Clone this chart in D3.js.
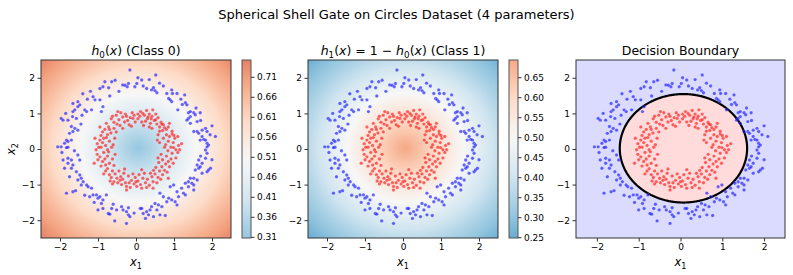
<!DOCTYPE html>
<html>
<head>
<meta charset="utf-8">
<script src="https://cdn.jsdelivr.net/npm/d3@7"></script>
<style>
  body { margin: 0; background: #fff; }
  text { font-family: "DejaVu Sans", sans-serif; fill: #000; }
</style>
</head>
<body>
<div id="holder"></div>
<script>
// ---- data ----
const mainTitle = "Spherical Shell Gate on Circles Dataset (4 parameters)";
const axisTicks = [-2, -1, 0, 1, 2];
const h0Ticks = [0.31, 0.36, 0.41, 0.46, 0.51, 0.56, 0.61, 0.66, 0.71];
const h1Ticks = [0.25, 0.30, 0.35, 0.40, 0.45, 0.50, 0.55, 0.60, 0.65];
const h0Range = [0.307, 0.752];
const h1Range = [0.248, 0.693];

// the 4 gate parameters (centre x, centre y, weight, bias)
const gateCenter = [0.06, 0.03];
const gateWeight = 0.535;
const gateBias = -0.815;

// class 0 (outer ring, blue)
const class0 = [
  [-0.16,2.22],[-0.20,1.84],[-0.35,1.80],[-0.23,1.75],[-0.03,1.75],[-0.82,1.89],[-0.64,1.89],[-0.95,1.70],
  [-0.87,1.75],[-1.13,1.47],[-1.08,1.38],[-1.28,1.40],[-0.95,1.38],[-0.69,1.49],[-0.87,1.19],[-0.91,1.05],
  [-1.17,1.10],[-1.35,1.10],[-1.30,1.05],[-1.53,1.33],[-1.48,1.24],[-1.66,1.28],[-1.61,1.10],[-1.53,1.19],
  [-1.66,1.05],[-1.97,0.86],[-1.92,0.81],[-1.79,0.81],[-1.67,0.91],[-1.57,0.86],[-1.70,0.63],[-1.61,0.58],
  [-1.66,0.49],[-1.53,0.53],[-1.75,0.44],[-1.83,0.25],[-1.79,0.21],[-1.70,0.25],[-1.88,0.16],[-2.06,0.06],
  [-1.97,0.06],[-1.79,0.05],[-0.55,1.93],[-0.29,1.79],[-0.45,1.62],[-1.40,1.55],[-1.20,1.62],[-0.72,1.72],
  [-1.85,1.00],[-1.42,0.95],[-1.45,0.70],
  [0.52,2.08],[0.15,1.94],[0.02,1.84],[0.19,1.77],[0.28,1.70],[0.41,1.66],[0.50,1.64],[0.55,1.58],
  [0.46,1.72],[0.72,1.77],[0.81,1.56],[0.94,1.66],[0.96,1.56],[1.08,1.56],[1.28,1.52],[0.86,1.42],
  [0.90,1.38],[0.94,1.33],[1.30,1.30],[1.34,1.24],[1.10,1.10],[1.38,1.02],[1.43,1.05],[1.52,1.02],
  [1.56,0.96],[1.43,0.91],[1.38,0.86],[1.34,0.81],[1.61,0.77],[1.69,1.02],[1.43,0.72],[1.52,0.49],
  [1.61,0.49],[1.65,0.44],[1.74,0.53],[1.83,0.58],[1.87,0.49],[1.74,0.35],[1.78,0.27],[1.83,0.25],
  [1.69,0.25],[1.87,0.16],[1.91,0.11],[2.00,0.65],[2.09,0.35],[0.35,1.95],[0.62,1.85],[1.18,1.40],
  [1.58,1.15],[1.70,0.80],[1.95,0.40],[0.05,2.00],[1.22,1.25],
  [-1.83,0.04],[-1.79,-0.26],[-1.70,-0.31],[-1.92,-0.31],[-1.53,-0.17],[-1.48,-0.31],[-1.79,-0.40],[-1.66,-0.45],
  [-1.88,-0.54],[-1.70,-0.54],[-1.57,-0.64],[-1.48,-0.73],[-1.44,-0.82],[-1.75,-0.78],[-1.53,-0.87],[-1.39,-0.92],
  [-1.44,-1.01],[-1.83,-1.24],[-1.66,-1.20],[-1.59,-1.17],[-1.30,-1.01],[-1.26,-1.06],[-1.17,-1.10],[-1.13,-1.29],
  [-1.22,-1.34],[-1.04,-1.29],[-1.00,-1.38],[-0.95,-1.34],[-0.87,-1.43],[-0.78,-1.29],[-0.91,-1.53],[-0.87,-1.67],
  [-1.00,-1.71],[-0.73,-1.81],[-0.69,-1.83],[-0.64,-1.67],[-0.51,-1.71],[-0.38,-1.62],[-0.34,-1.71],[-0.25,-1.76],
  [-0.20,-1.85],[-0.16,-1.90],[-0.56,-2.02],[-0.25,-2.09],[-0.20,-1.65],[0.11,-1.67],[-1.62,-0.05],[-1.35,-1.30],
  [-1.10,-1.50],[-0.60,-1.55],[-0.05,-1.80],[-1.95,-0.10],
  [1.87,0.06],[1.83,-0.03],[1.87,-0.12],[1.65,-0.31],[1.83,-0.26],[1.74,-0.40],[1.61,-0.45],[1.65,-0.54],
  [1.69,-0.50],[1.56,-0.59],[1.87,-0.64],[1.91,-0.59],[1.96,-0.54],[1.74,-0.68],[1.52,-0.82],[1.43,-0.82],
  [1.61,-0.87],[1.38,-0.92],[1.30,-0.96],[1.47,-0.96],[1.52,-1.01],[1.38,-1.06],[1.52,-1.15],[1.25,-1.24],
  [1.30,-1.29],[1.08,-1.20],[1.12,-1.34],[0.90,-1.06],[0.99,-1.01],[0.86,-1.38],[0.94,-1.43],[1.03,-1.48],
  [1.08,-1.57],[0.81,-1.48],[0.72,-1.34],[0.63,-1.24],[0.50,-1.53],[0.59,-1.57],[0.68,-1.62],[0.55,-1.71],
  [0.41,-1.62],[0.37,-1.71],[0.15,-1.67],[0.19,-1.81],[0.28,-1.76],[0.33,-1.85],[0.46,-1.90],[0.63,-1.85],
  [0.77,-1.87],[1.70,-0.20],[2.00,-0.30],[1.20,-1.10],[0.25,-1.95]
];

// class 1 (inner ring, red)
const class1 = [
  [0.92,0.05],[0.78,0.12],[1.05,-0.02],[0.85,0.22],[0.98,0.18],[1.12,0.10],[0.72,0.30],[0.88,0.35],
  [1.02,0.30],[0.80,0.40],[0.95,0.42],[0.62,0.18],[1.20,0.15],[0.84,-0.05],[0.99,0.04],
  [0.70,0.52],[0.62,0.62],[0.55,0.70],[0.75,0.60],[0.48,0.80],[0.66,0.75],[0.58,0.88],[0.80,0.55],
  [0.42,0.58],[0.72,0.68],[0.52,0.98],[0.40,0.85],[0.62,0.50],[0.85,0.62],
  [0.30,0.85],[0.22,0.95],[0.35,0.98],[0.15,0.76],[0.28,1.08],[0.10,0.92],[0.38,0.72],[0.05,0.85],
  [0.20,0.66],[0.44,1.10],[0.18,1.00],[0.32,0.90],
  [-0.05,0.95],[-0.15,0.88],[-0.10,1.02],[-0.22,0.80],[-0.28,0.98],[-0.35,0.90],[-0.18,0.68],[-0.40,1.02],
  [-0.30,0.76],[-0.45,0.82],[-0.02,0.76],
  [-0.52,0.95],[-0.58,0.75],[-0.65,0.85],[-0.72,0.62],[-0.58,0.58],[-0.78,0.72],[-0.50,0.70],[-0.66,0.45],
  [-0.82,0.55],[-0.75,0.40],[-0.52,0.48],[-0.88,0.48],
  [-0.85,0.30],[-0.95,0.25],[-0.70,0.22],[-0.80,0.10],[-0.92,0.05],[-1.02,0.15],[-0.64,0.05],[-0.88,0.18],
  [-0.78,0.32],[-1.05,-0.02],[-0.60,0.12],
  [-0.85,-0.10],[-0.95,-0.22],[-0.75,-0.20],[-0.88,-0.35],[-0.70,-0.40],[-1.00,-0.30],[-0.80,-0.45],[-0.62,-0.28],
  [-0.92,-0.48],[-0.72,-0.08],
  [-0.75,-0.55],[-0.62,-0.62],[-0.70,-0.72],[-0.55,-0.70],[-0.50,-0.82],[-0.65,-0.80],[-0.45,-0.62],[-0.58,-0.92],
  [-0.40,-0.78],[-0.80,-0.62],[-0.48,-0.95],
  [-0.35,-0.85],[-0.28,-0.95],[-0.20,-0.76],[-0.25,-1.05],[-0.12,-0.88],[-0.05,-0.98],[-0.15,-1.08],[-0.32,-0.68],
  [-0.02,-0.80],[-0.38,-1.00],[-0.08,-0.70],
  [0.05,-0.90],[0.12,-1.00],[0.18,-0.82],[0.08,-0.72],[0.25,-0.95],[0.15,-1.10],[0.30,-0.85],[0.22,-0.68],
  [0.35,-1.02],[0.02,-1.05],
  [0.42,-0.78],[0.50,-0.70],[0.45,-0.92],[0.58,-0.80],[0.62,-0.62],[0.52,-0.52],[0.70,-0.72],[0.46,-0.60],
  [0.68,-0.50],[0.75,-0.60],
  [0.78,-0.42],[0.85,-0.35],[0.70,-0.30],[0.92,-0.28],[0.80,-0.20],[0.95,-0.12],[1.05,-0.25],[0.66,-0.15],
  [0.88,-0.50],[1.10,-0.10],[0.60,-0.38],
  [0.95,0.50],[1.00,0.38],[0.58,0.40],[0.52,0.82],[0.25,0.78],[0.12,1.05],[-0.08,0.86],[-0.25,0.92],
  [-0.42,0.66],[-0.62,0.92],[-0.70,0.55],[-0.92,0.38],[-0.98,0.05],[-0.75,-0.02],[-1.02,-0.15],[-0.82,-0.28],
  [-0.58,-0.46],[-0.85,-0.70],[-0.62,-0.98],[-0.42,-0.88],[-0.18,-0.95],[0.00,-0.92],[0.28,-1.08],[0.38,-0.68],
  [0.55,-0.95],[0.65,-0.85],[0.82,-0.65],[0.98,-0.40],[1.15,-0.02],[0.75,0.05],[0.56,0.25],[0.35,0.62],
  [-0.35,0.58],[-0.56,0.30],[-0.55,-0.15],[-0.30,-0.56],[0.15,-0.58],[0.58,-0.25],[0.68,0.70],[0.42,0.92],
  [-0.12,0.64],[-0.48,1.05],[-0.95,0.62],[-1.08,0.30],[-1.10,-0.40],[-0.68,-0.90],[-0.25,-1.15],[0.45,-1.10],
  [0.85,-0.82],[1.10,0.35],[0.88,0.72],[0.05,0.98]
];

// ---- layout ----
const width = 793, height = 275;
const plotTop = 60, plotBottom = 238;
const panels = [
  { left: 41, right: 231, kind: "h0", cbar: [242, 251], ticks: h0Ticks, range: h0Range },
  { left: 308, right: 498, kind: "h1", cbar: [509, 518], ticks: h1Ticks, range: h1Range },
  { left: 576, right: 785, kind: "boundary" }
];

const rdbu = ["#053061","#2166ac","#4393c3","#92c5de","#d1e5f0","#f7f7f7","#fddbc7","#f4a582","#d6604d","#b2182b","#67001f"];
const cmap = d3.scaleLinear().domain(d3.range(11).map(i => i / 10)).range(rdbu).interpolate(d3.interpolateRgb);

function gateH0(x, y) {
  const d = Math.hypot(x - gateCenter[0], y - gateCenter[1]);
  return 1 / (1 + Math.exp(-(gateWeight * d + gateBias)));
}

const fmt = d => d < 0 ? "\u2212" + Math.abs(d) : String(d);

const svg = d3.select("#holder").append("svg")
  .attr("width", width).attr("height", height);
const defs = svg.append("defs");

svg.append("text")
  .attr("x", 396.5).attr("y", 19)
  .attr("text-anchor", "middle")
  .style("font-size", "13px")
  .text(mainTitle);

// math-ish text: segments [text, italic, subscript]
function mathText(sel, segs, size) {
  const t = sel.style("font-size", size + "px");
  let shifted = false;
  segs.forEach(([s, it, sub]) => {
    const ts = t.append("tspan").text(s);
    if (it) ts.style("font-style", "italic");
    if (sub && !shifted) { ts.attr("dy", size * 0.25).style("font-size", (size * 0.7) + "px"); shifted = true; }
    else if (sub) { ts.style("font-size", (size * 0.7) + "px"); }
    else if (shifted) { ts.attr("dy", -size * 0.25); shifted = false; }
  });
  return t;
}

const titles = [
  [["h", true], ["0", false, true], ["(", false], ["x", true], [")", false], [" (Class 0)", false]],
  [["h", true], ["1", false, true], ["(", false], ["x", true], [") = 1 \u2212 ", false], ["h", true], ["0", false, true], ["(", false], ["x", true], [")", false], [" (Class 1)", false]],
  [["Decision Boundary", false]]
];

panels.forEach((p, pi) => {
  const pw = p.right - p.left, ph = plotBottom - plotTop;
  const x = d3.scaleLinear().domain([-2.5, 2.5]).range([p.left, p.right]);
  const y = d3.scaleLinear().domain([-2.5, 2.5]).range([plotBottom, plotTop]);

  defs.append("clipPath").attr("id", "clip" + pi)
    .append("rect").attr("x", p.left).attr("y", plotTop).attr("width", pw).attr("height", ph);
  const g = svg.append("g").attr("clip-path", `url(#clip${pi})`);

  if (p.kind !== "boundary") {
    const canvas = document.createElement("canvas");
    canvas.width = pw; canvas.height = ph;
    const ctx = canvas.getContext("2d");
    const img = ctx.createImageData(pw, ph);
    for (let j = 0; j < ph; j++) {
      for (let i = 0; i < pw; i++) {
        const h0 = gateH0(x.invert(p.left + i + 0.5), y.invert(plotTop + j + 0.5));
        const v = p.kind === "h0" ? h0 : 1 - h0;
        const c = d3.rgb(cmap(v));
        const k = 4 * (j * pw + i);
        img.data[k] = c.r; img.data[k + 1] = c.g; img.data[k + 2] = c.b; img.data[k + 3] = 255;
      }
    }
    ctx.putImageData(img, 0, 0);
    g.append("image").attr("x", p.left).attr("y", plotTop)
      .attr("width", pw).attr("height", ph)
      .attr("href", canvas.toDataURL());
  } else {
    g.append("rect").attr("x", p.left).attr("y", plotTop).attr("width", pw).attr("height", ph)
      .attr("fill", "rgb(219,219,255)");
    const n = 240, step = 5 / n;
    const vals = new Array(n * n);
    for (let j = 0; j < n; j++)
      for (let i = 0; i < n; i++)
        vals[j * n + i] = 1 - gateH0(-2.5 + i * step, 2.5 - j * step);
    const cont = d3.contours().size([n, n]).thresholds([0.5])(vals);
    const proj = d3.geoTransform({
      point(px, py) { this.stream.point(x(-2.5 + px * step), y(2.5 - py * step)); }
    });
    g.append("path").datum(cont[0]).attr("d", d3.geoPath(proj))
      .attr("fill", "rgb(255,219,219)")
      .attr("stroke", "#000").attr("stroke-width", 2.2);
  }

  // scatter points
  [[class0, "#0000ff"], [class1, "#ff0000"]].forEach(([pts, col]) => {
    g.append("g").selectAll("circle").data(pts).enter().append("circle")
      .attr("cx", d => x(d[0])).attr("cy", d => y(d[1]))
      .attr("r", 1.7)
      .attr("fill", col).attr("fill-opacity", 0.6)
      .attr("stroke", "#fff").attr("stroke-width", 0.3).attr("stroke-opacity", 0.5);
  });

  // frame
  svg.append("rect").attr("x", p.left).attr("y", plotTop).attr("width", pw).attr("height", ph)
    .attr("fill", "none").attr("stroke", "#333").attr("stroke-width", 1);

  // axes
  const xa = svg.append("g").attr("transform", `translate(0,${plotBottom})`)
    .call(d3.axisBottom(x).tickValues(axisTicks).tickFormat(fmt).tickSize(3.5).tickPadding(2.5));
  const ya = svg.append("g").attr("transform", `translate(${p.left},0)`)
    .call(d3.axisLeft(y).tickValues(axisTicks).tickFormat(fmt).tickSize(3.5).tickPadding(2.5));
  [xa, ya].forEach(a => {
    a.select(".domain").remove();
    a.selectAll("line").attr("stroke", "#333");
    a.selectAll("text").style("font-size", "9px").style("font-family", "DejaVu Sans").attr("fill", "#000");
  });

  // panel title
  mathText(svg.append("text").attr("x", (p.left + p.right) / 2).attr("y", 55).attr("text-anchor", "middle"),
    titles[pi], 12.5);

  // x label
  mathText(svg.append("text").attr("x", (p.left + p.right) / 2).attr("y", 266).attr("text-anchor", "middle"),
    [["x", true], ["1", false, true]], 11.5);
  if (pi === 0) {
    mathText(svg.append("text").attr("transform", "translate(15,149) rotate(-90)").attr("text-anchor", "middle"),
      [["x", true], ["2", false, true]], 11.5);
  }

  // colour bar
  if (p.cbar) {
    const [c0, c1] = p.cbar;
    const cs = d3.scaleLinear().domain(p.range).range([plotBottom, plotTop]);
    const gid = "grad" + pi;
    const grad = defs.append("linearGradient").attr("id", gid)
      .attr("x1", 0).attr("y1", 1).attr("x2", 0).attr("y2", 0);
    d3.range(0, 1.0001, 0.05).forEach(f => {
      const v = p.range[0] + f * (p.range[1] - p.range[0]);
      grad.append("stop").attr("offset", f).attr("stop-color", cmap(v));
    });
    svg.append("rect").attr("x", c0).attr("y", plotTop).attr("width", c1 - c0).attr("height", plotBottom - plotTop)
      .attr("fill", `url(#${gid})`).attr("stroke", "#555").attr("stroke-width", 1);
    const ca = svg.append("g").attr("transform", `translate(${c1},0)`)
      .call(d3.axisRight(cs).tickValues(p.ticks).tickFormat(d3.format(".2f")).tickSize(3.5).tickPadding(2.5));
    ca.select(".domain").remove();
    ca.selectAll("line").attr("stroke", "#333");
    ca.selectAll("text").style("font-size", "9px").style("font-family", "DejaVu Sans").attr("fill", "#000");
  }
});
</script>
</body>
</html>
